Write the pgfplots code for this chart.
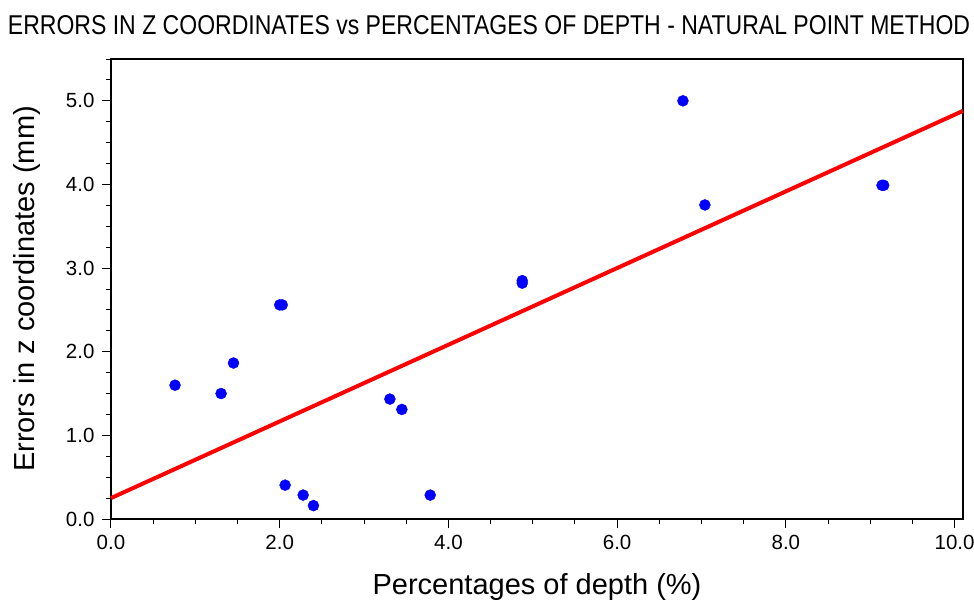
\documentclass[border=0pt]{standalone}
\usepackage{fontspec}
\setmainfont{Liberation Sans}
\usepackage{graphicx}
\usepackage{pgfplots}
\pgfplotsset{compat=1.18}
\definecolor{ptblue}{RGB}{0,0,255}
\definecolor{ptred}{RGB}{255,0,0}
\begin{document}
\begin{tikzpicture}[x=1pt,y=1pt]
\begin{axis}[
  at={(0pt,0pt)}, anchor=south west,
  scale only axis, width=852pt, height=460pt,
  xmin=0, xmax=10.1, ymin=0, ymax=5.5,
  xtick={0,2,...,10}, ytick={0,1,...,5},
  minor xtick={0,0.5,...,10}, minor ytick={0,0.25,...,5.5},
  tick align=outside, tick pos=left,
  major tick length=9pt, minor tick length=5pt,
  every tick/.style={black, line width=1pt},
  axis line style={line width=1.3pt},
  tick label style={font=\fontsize{20.5}{24}\selectfont},
  /pgf/number format/.cd, fixed, fixed zerofill, precision=1, assume math mode=true,
  /pgfplots/.cd,
  xticklabel style={yshift=-4pt},
  yticklabel style={xshift=-4pt},
  xlabel={Percentages of depth (\%)},
  ylabel={Errors in z coordinates (mm)},
  label style={font=\fontsize{29}{34}\selectfont},
  xlabel style={yshift=-17pt},
  ylabel style={yshift=19pt},
  clip=false,
]
\addplot[ptred, line width=4pt] coordinates {(0,0.25) (10.1,4.88)};
\addplot[only marks, mark=*, mark size=5.5pt, mark options={fill=ptblue, draw=ptblue}] coordinates {
(0.759,1.60) (1.305,1.50) (1.452,1.865) (2.00,2.56) (2.03,2.56)
(2.064,0.405) (2.278,0.286) (2.40,0.16) (3.306,1.434) (3.448,1.31)
(3.784,0.286) (4.875,2.82) (4.875,2.85) (6.78,5.0) (7.04,3.755)
(9.14,3.99) (9.16,3.99)
};
\end{axis}
\node[anchor=center] at (378pt,493.5pt) {\resizebox{962pt}{19pt}{ERRORS IN Z COORDINATES vs PERCENTAGES OF DEPTH - NATURAL POINT METHOD}};
\pgfresetboundingbox
\path[use as bounding box] (-111pt,-87pt) rectangle (863pt,519pt);
\end{tikzpicture}
\end{document}
